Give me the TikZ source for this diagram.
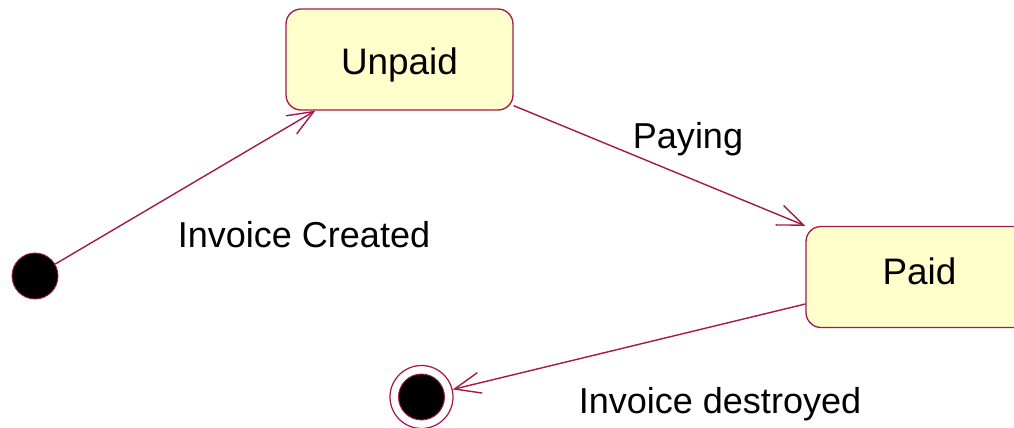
\documentclass[tikz,border=0pt]{standalone}
\usepackage{fontspec}
\setmainfont{Liberation Sans}
\usetikzlibrary{arrows.meta,positioning}
\definecolor{umlred}{RGB}{165,25,72}
\definecolor{umlfill}{RGB}{255,255,204}

\begin{document}
\begin{tikzpicture}[
  x=0.02cm, y=0.02cm,
  state/.style={draw=umlred, line width=0.75pt, rounded corners=0.3cm, fill=umlfill, minimum width=4.54cm, minimum height=2.02cm, font=\fontsize{21}{24}\selectfont},
  startdot/.style={circle, draw=umlred, line width=0.5pt, fill=black, minimum size=0.92cm, inner sep=0pt},
  enddot/.style={circle, draw=umlred, line width=0.7pt, minimum size=1.26cm, inner sep=0pt},
  trans/.style={draw=umlred, line width=0.8pt, -{Straight Barb[length=5.2mm, width=4.2mm]}},
  lbl/.style={font=\fontsize{20.5}{24}\selectfont}
]
\useasboundingbox (0,0) rectangle (1014,427);
\node[startdot] (start) at (35,151) {};
\node[state] (unpaid) at (399.5,367.5) {\raisebox{-0.31cm}[0pt][0pt]{Unpaid}};
\node[state] (paid) at (919.5,150) {\raisebox{-0.14cm}[0pt][0pt]{Paid}};
\node[enddot] (final) at (421.5,30) {};
\node[startdot] (finalin) at (final) {};
\draw[trans] (start) -- ([xshift=0.6cm]unpaid.south west);
\draw[trans] ([yshift=0.1cm]unpaid.south east) -- (paid.north west);
\draw[trans] ([yshift=-0.54cm]paid.west) -- (final);
\node[lbl] (lcreated) at (304,192) {Invoice Created};
\node[lbl] (lpaying) at (688,288) {Paying};
\node[lbl] (ldestroyed) at (720,23) {Invoice destroyed};
\end{tikzpicture}
\end{document}
